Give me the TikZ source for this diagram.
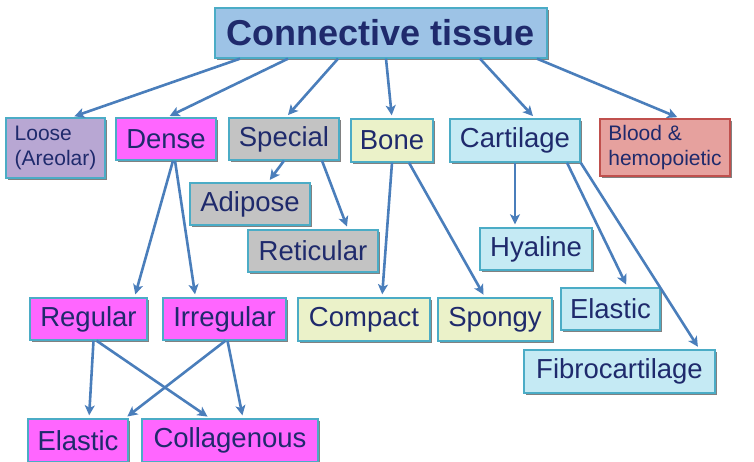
\documentclass[tikz,border=0pt]{standalone}
\usepackage{fontspec}
\setmainfont{Liberation Sans}
\usepackage{xcolor}
\usepackage{tikz}
\usetikzlibrary{arrows.meta,positioning,shadows}
\definecolor{ctnavy}{HTML}{1F2A6C}
\definecolor{ctline}{HTML}{4A7EBB}
\definecolor{ctedge}{HTML}{4BACC6}
\definecolor{cttitlefill}{HTML}{9DC3E6}
\definecolor{ctloosefill}{HTML}{B8A7D3}
\definecolor{ctdensefill}{HTML}{FF66FF}
\definecolor{ctspecialfill}{HTML}{C3C3C3}
\definecolor{ctbonefill}{HTML}{EBF2C9}
\definecolor{ctcartfill}{HTML}{C5EAF4}
\definecolor{ctbloodfill}{HTML}{E6A19E}
\definecolor{ctbloodedge}{HTML}{C0504D}
\tikzset{
ctbox/.style={rectangle,draw=ctedge,line width=1.4pt,align=center,inner sep=0pt,text=ctnavy,
  font=\fontsize{27.5}{30}\selectfont,
  drop shadow={shadow xshift=1.6pt,shadow yshift=-1.6pt,fill=black!55,opacity=0.9}},
ctsmall/.style={font=\fontsize{21}{25}\selectfont,align=left},
cttitle/.style={ctbox,fill=cttitlefill,font=\fontsize{36}{40}\bfseries\selectfont},
ctloose/.style={ctbox,ctsmall,fill=ctloosefill},
ctdense/.style={ctbox,fill=ctdensefill},
ctspecial/.style={ctbox,fill=ctspecialfill},
ctbone/.style={ctbox,fill=ctbonefill},
ctcart/.style={ctbox,fill=ctcartfill},
ctblood/.style={ctbox,ctsmall,fill=ctbloodfill,draw=ctbloodedge},
ctarr/.style={-{Stealth[length=10pt,width=10pt,inset=2.5pt]},line width=2.6pt,ctline,shorten >=3pt}
}
\begin{document}
\begin{tikzpicture}[x=1pt,y=-1pt]
\useasboundingbox (0,0) rectangle (754,462);
\node[cttitle,minimum width=332pt,minimum height=50pt] (tissue) at (381,33) {Connective tissue};
\node[ctloose,minimum width=99pt,minimum height=60pt] (loose) at (55.5,148) {Loose\\(Areolar)};
\node[ctdense,minimum width=100pt,minimum height=42pt] (dense) at (166,139) {Dense};
\node[ctspecial,minimum width=110pt,minimum height=42pt] (special) at (284,139) {Special};
\node[ctbone,minimum width=82pt,minimum height=43pt] (bone) at (392,140.5) {Bone};
\node[ctcart,minimum width=130pt,minimum height=43pt] (cartilage) at (515,140.5) {Cartilage};
\node[ctblood,minimum width=130pt,minimum height=57pt] (blood) at (665,147.5) {Blood \&\\hemopoietic};
\node[ctspecial,minimum width=120pt,minimum height=42pt] (adipose) at (250,204) {Adipose};
\node[ctspecial,minimum width=130pt,minimum height=42pt] (reticular) at (313,251) {Reticular};
\node[ctcart,minimum width=112pt,minimum height=42pt] (hyaline) at (536,249) {Hyaline};
\node[ctdense,minimum width=117pt,minimum height=42pt] (regular) at (88.5,319) {Regular};
\node[ctdense,minimum width=123pt,minimum height=42pt] (irregular) at (224.5,319) {Irregular};
\node[ctbone,minimum width=132pt,minimum height=43pt] (compact) at (364,319.5) {Compact};
\node[ctbone,minimum width=114pt,minimum height=43pt] (spongy) at (495,319.5) {Spongy};
\node[ctcart,minimum width=99pt,minimum height=42pt] (cartelastic) at (610.5,309) {Elastic};
\node[ctcart,minimum width=191pt,minimum height=43pt] (fibro) at (619.5,371.5) {Fibrocartilage};
\node[ctdense,minimum width=100pt,minimum height=43pt] (denseelastic) at (78,440.5) {Elastic};
\node[ctdense,minimum width=176pt,minimum height=43pt] (collagenous) at (230,440.5) {Collagenous};
% main branches
\draw[ctarr] ([xshift=-141pt]tissue.south)--([xshift=16pt]loose.north);
\draw[ctarr] ([xshift=-93pt]tissue.south)--([xshift=1pt]dense.north);
\draw[ctarr] ([xshift=-43pt]tissue.south)--([xshift=2pt]special.north);
\draw[ctarr] ([xshift=5pt]tissue.south)--(bone.north);
\draw[ctarr] ([xshift=99pt]tissue.south)--([xshift=20pt]cartilage.north);
\draw[ctarr] ([xshift=156pt]tissue.south)--([xshift=15pt]blood.north);
% special
\draw[ctarr] (special.south)--([xshift=18pt]adipose.north);
\draw[ctarr] ([xshift=38pt]special.south)--([xshift=35pt]reticular.north);
% dense
\draw[ctarr] ([xshift=7pt]dense.south)--([xshift=46pt]regular.north);
\draw[ctarr] ([xshift=9pt]dense.south)--([xshift=-29pt]irregular.north);
% bone
\draw[ctarr] (bone.south)--([xshift=18pt]compact.north);
\draw[ctarr] ([xshift=17pt]bone.south)--([xshift=-10pt]spongy.north);
% cartilage
\draw[ctarr] (cartilage.south)--([xshift=-21pt]hyaline.north);
\draw[ctarr] ([xshift=52pt]cartilage.south)--([xshift=17pt]cartelastic.north);
\draw[ctarr] (cartilage.south east)--([xshift=80pt]fibro.north);
% fibres
\draw[ctarr] ([xshift=5pt]regular.south)--([xshift=11pt]denseelastic.north);
\draw[ctarr] ([xshift=8pt]regular.south)--([xshift=-20pt]collagenous.north);
\draw[ctarr] ([xshift=1pt]irregular.south)--([xshift=47pt]denseelastic.north);
\draw[ctarr] ([xshift=3pt]irregular.south)--([xshift=13pt]collagenous.north);
\end{tikzpicture}
\end{document}
